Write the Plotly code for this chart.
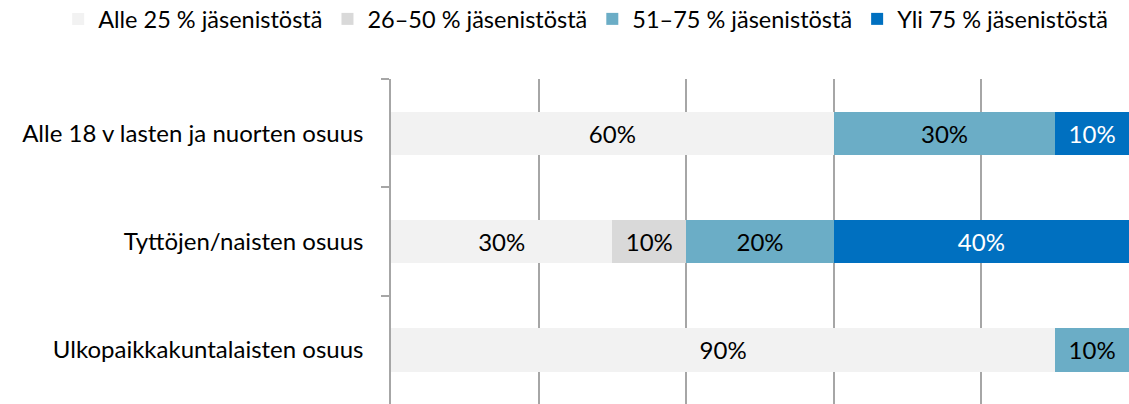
import plotly.graph_objects as go

categories = ["Alle 18 v lasten ja nuorten osuus", "Tyttöjen/naisten osuus", "Ulkopaikkakuntalaisten osuus"]
series_names = ["Alle 25 % jäsenistöstä", "26–50 % jäsenistöstä", "51–75 % jäsenistöstä", "Yli 75 % jäsenistöstä"]
alle25 = [60, 30, 90]
v26_50 = [0, 10, 0]
v51_75 = [30, 20, 10]
yli75 = [10, 40, 0]

colors = ["#f2f2f2", "#d9d9d9", "#6badc6", "#0070c0"]
text_colors = ["#000000", "#000000", "#000000", "#ffffff"]
FONT = "Lato"
FS = 24

fig = go.Figure()
for name, vals, c, tc in zip(series_names, [alle25, v26_50, v51_75, yli75], colors, text_colors):
    fig.add_trace(go.Bar(
        y=categories, x=vals, name=name, orientation="h",
        marker=dict(color=c, line=dict(width=0)),
        text=[f"{v}%" if v else "" for v in vals],
        textposition="inside", insidetextanchor="middle",
        textfont=dict(color=tc, size=FS, family=FONT),
        width=0.4,
    ))

fig.update_layout(
    barmode="stack",
    width=1129, height=404,
    margin=dict(l=391, r=0, t=79, b=0, autoexpand=False),
    paper_bgcolor="white", plot_bgcolor="white",
    font=dict(family=FONT, size=FS, color="#000000"),
    showlegend=True,
    legend=dict(orientation="h", xref="paper", yref="paper", x=-0.451, y=1.252,
                xanchor="left", yanchor="top", font=dict(size=23.5, family=FONT),
                traceorder="normal", itemwidth=30, tracegroupgap=0, borderwidth=0),
    xaxis=dict(range=[0, 100], dtick=20, showgrid=True, gridcolor="#a6a6a6", gridwidth=1.5,
               showticklabels=False, zeroline=False, showline=False, fixedrange=True),
    yaxis=dict(autorange="reversed", tickson="boundaries", ticks="outside", ticklen=8,
               tickcolor="#a6a6a6", tickwidth=1.5, showline=True, linecolor="#a6a6a6", linewidth=1.5,
               showgrid=False, ticklabelstandoff=21, tickfont=dict(size=FS, family=FONT)),
)

fig.write_html("out.html", config={"displayModeBar": False},
               post_script="document.body.style.margin='0';")
